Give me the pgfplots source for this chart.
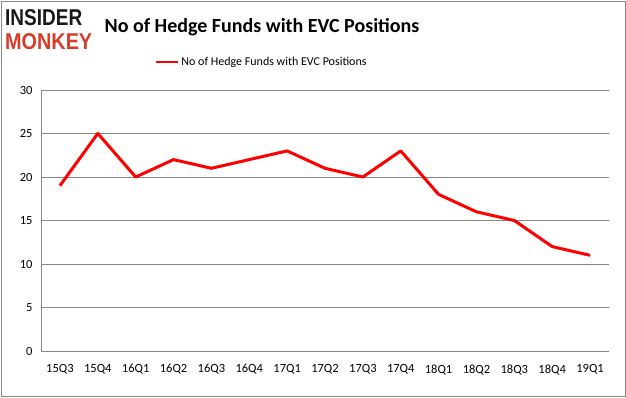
\documentclass[border=0pt]{standalone}
\usepackage{graphicx}
\usepackage{fontspec}
\setmainfont{Carlito}
\newfontfamily\logofont{Liberation Sans}
\usepackage{pgfplots}
\pgfplotsset{compat=1.18}
\definecolor{gridgray}{RGB}{134,134,134}
\definecolor{logored}{RGB}{215,60,40}
\definecolor{logoblack}{RGB}{25,25,25}
\begin{document}
\begin{tikzpicture}[x=1pt,y=1pt]
\path[use as bounding box] (0,0) rectangle (626,397);
\draw[gridgray,line width=0.8pt] (1,1) rectangle (625,396);
% logo
\node[anchor=west,inner sep=0] at (5,379.5) {\resizebox{77pt}{16pt}{\logofont\bfseries\color{logoblack}INSIDER}};
\node[anchor=west,inner sep=0] at (5,355.5) {\resizebox{87pt}{16pt}{\logofont\bfseries\color{logored}MONKEY}};
% title
\node[inner sep=0] at (262,370) {\fontsize{20}{24}\selectfont\bfseries No of Hedge Funds with EVC Positions};
\begin{axis}[
  at={(41pt,46pt)}, anchor=south west,
  width=568pt, height=261pt, scale only axis,
  xmin=-0.5, xmax=14.5, ymin=0, ymax=30,
  axis line style={gridgray},
  axis x line*=bottom, axis y line*=left,
  xtick={0,...,14},
  xticklabels={15Q3,15Q4,16Q1,16Q2,16Q3,16Q4,17Q1,17Q2,17Q3,17Q4,18Q1,18Q2,18Q3,18Q4,19Q1},
  major x tick style={draw=none},
  extra x ticks={-0.5,0.5,...,14.5},
  extra x tick labels={},
  extra x tick style={tick style={draw=gridgray,line width=0.8pt}, major tick length=5pt, tick align=outside, grid=none},
  ytick={0,5,...,30},
  ymajorgrids, grid style={gridgray,line width=0.8pt},
  major y tick style={draw=none},
  /pgf/number format/assume math mode=true,
  tick label style={font=\fontsize{12.5}{14}\selectfont},
  xticklabel style={yshift=-10pt},
  yticklabel style={xshift=-5pt},
  legend style={at={(262pt-41pt,335pt-46pt)}, anchor=center, draw=none, fill=none, font=\fontsize{12}{14}\selectfont, legend columns=1},
  legend cell align=left,
  legend image code/.code={\draw[#1,line width=2pt] (0pt,0pt) -- (22pt,0pt);},
  clip=false,
]
\addplot[red, line width=3pt, line join=round] coordinates {
(0,19) (1,25) (2,20) (3,22) (4,21) (5,22) (6,23) (7,21) (8,20) (9,23) (10,18) (11,16) (12,15) (13,12) (14,11)
};
\addlegendentry{No of Hedge Funds with EVC Positions}
\end{axis}
\end{tikzpicture}
\end{document}
